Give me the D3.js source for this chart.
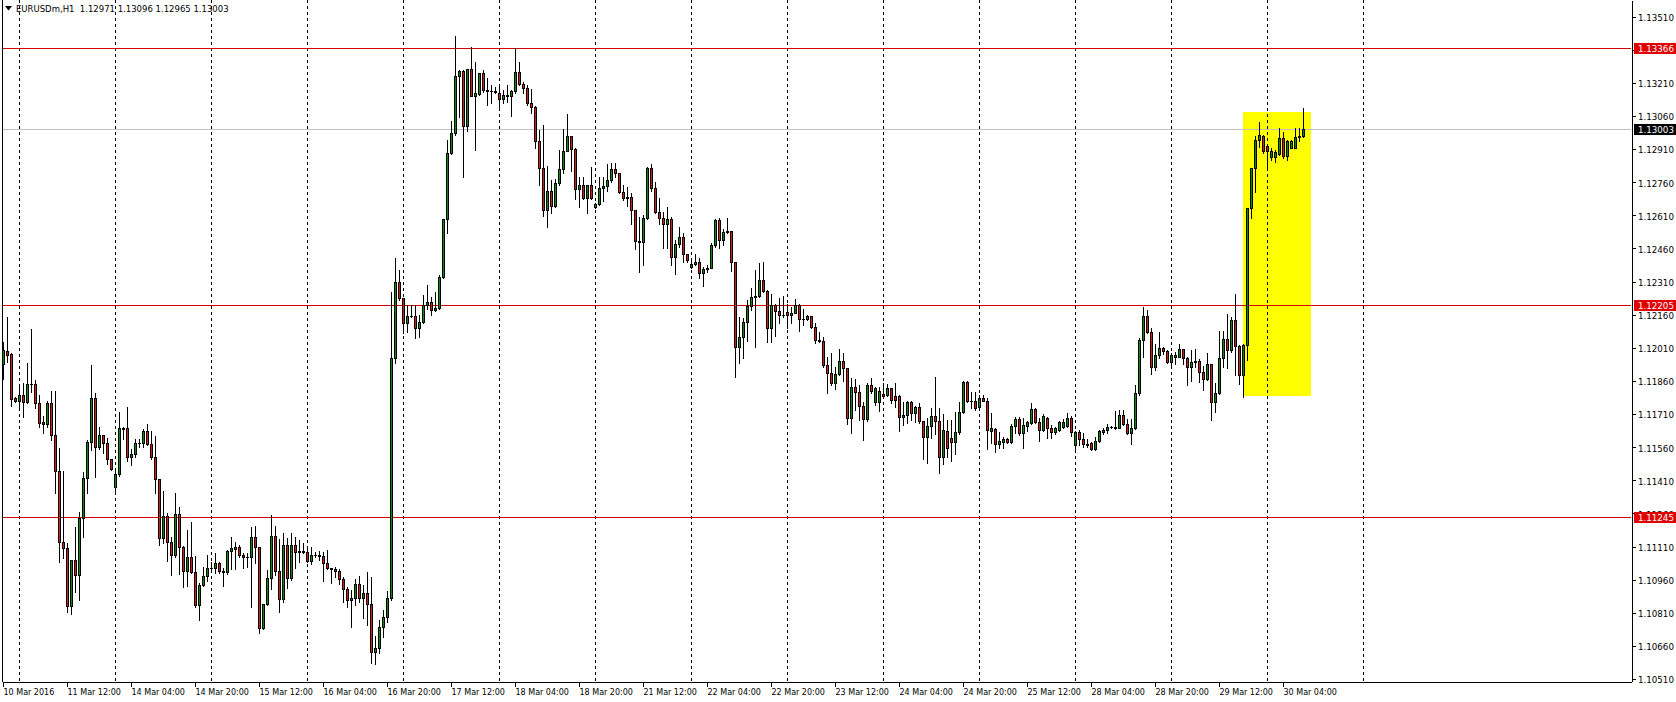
<!DOCTYPE html>
<html><head><meta charset="utf-8">
<script src="https://cdn.jsdelivr.net/npm/d3@7"></script>
<style>html,body{margin:0;padding:0;background:#fff;overflow:hidden}</style>
</head><body><svg id="c" width="1676" height="702"></svg>
<script>
const symbol = "EURUSDm,H1";
const opens = [
1.11935,1.11997,1.11980,1.11783,1.11770,1.11795,1.11764,1.11846,1.11848,1.11761,
1.11675,1.11663,1.11759,1.11614,1.11453,1.11129,1.11103,1.10842,1.11049,1.10981,
1.11239,1.11419,1.11582,1.11781,1.11559,1.11614,1.11577,1.11505,1.11378,1.11438,
1.11645,1.11645,1.11517,1.11529,1.11580,1.11581,1.11633,1.11574,1.11517,1.11416,
1.11150,1.11248,1.11132,1.11072,1.11256,1.11109,1.11001,1.11064,1.10996,1.10845,
1.10936,1.10977,1.11011,1.11011,1.11034,1.11001,1.10993,1.11090,1.11100,1.11106,
1.11070,1.11061,1.11063,1.11152,1.11106,1.10740,1.10850,1.10966,1.11158,1.11001,
1.10874,1.11117,1.10966,1.11117,1.11087,1.11088,1.11087,1.11046,1.11070,1.11071,
1.11069,1.11034,1.11011,1.11010,1.11001,1.10962,1.10916,1.10868,1.10876,1.10939,
1.10876,1.10898,1.10850,1.10634,1.10649,1.10747,1.10792,1.10876,1.11964,1.12306,
1.12234,1.12121,1.12154,1.12156,1.12101,1.12125,1.12204,1.12219,1.12181,1.12189,
1.12329,1.12592,1.12891,1.12981,1.13241,1.13265,1.13014,1.13272,1.13151,1.13159,
1.13253,1.13177,1.13172,1.13174,1.13165,1.13135,1.13155,1.13150,1.13174,1.13257,
1.13204,1.13185,1.13120,1.13102,1.12948,1.12823,1.12634,1.12720,1.12653,1.12755,
1.12819,1.12901,1.12969,1.12910,1.12728,1.12746,1.12687,1.12746,1.12646,1.12660,
1.12732,1.12743,1.12770,1.12819,1.12800,1.12717,1.12687,1.12694,1.12634,1.12493,
1.12490,1.12596,1.12823,1.12735,1.12626,1.12596,1.12569,1.12593,1.12422,1.12479,
1.12513,1.12433,1.12374,1.12388,1.12397,1.12347,1.12367,1.12372,1.12475,1.12589,
1.12498,1.12536,1.12539,1.12397,1.12015,1.12060,1.12128,1.12199,1.12241,1.12243,
1.12317,1.12268,1.12098,1.12204,1.12178,1.12158,1.12170,1.12158,1.12169,1.12204,
1.12139,1.12140,1.12154,1.12103,1.12045,1.12042,1.11932,1.11897,1.11852,1.11891,
1.11951,1.11917,1.11691,1.11834,1.11811,1.11746,1.11686,1.11841,1.11766,1.11766,
1.11799,1.11795,1.11826,1.11790,1.11793,1.11698,1.11706,1.11766,1.11713,1.11743,
1.11678,1.11607,1.11657,1.11703,1.11678,1.11517,1.11633,1.11600,1.11585,1.11627,
1.11718,1.11856,1.11769,1.11770,1.11743,1.11784,1.11769,1.11633,1.11642,1.11573,
1.11582,1.11596,1.11582,1.11657,1.11687,1.11623,1.11657,1.11668,1.11733,1.11672,
1.11638,1.11693,1.11648,1.11630,1.11638,1.11653,1.11657,1.11693,1.11570,1.11630,
1.11597,1.11573,1.11578,1.11552,1.11588,1.11630,1.11636,1.11653,1.11652,1.11648,
1.11706,1.11663,1.11623,1.11645,1.11804,1.12045,1.12155,1.12083,1.11924,1.11977,
1.12010,1.11995,1.11947,1.11967,1.11970,1.12004,1.11965,1.11924,1.11947,1.11950,
1.11899,1.11869,1.11935,1.11763,1.11804,1.11965,1.12048,1.12000,1.12136,1.12019,
1.11887,1.12022,1.12642,1.12823,1.12951,1.12970,1.12925,1.12875,1.12875,1.12886,
1.12961,1.12880,1.12916,1.12916,1.12966,1.12971];
const highs = [
1.12035,1.12151,1.11988,1.11785,1.11837,1.11852,1.11942,1.12095,1.11864,1.11796,
1.11701,1.11770,1.11814,1.11814,1.11555,1.11452,1.11124,1.11049,1.11197,1.11268,
1.11446,1.11592,1.11932,1.11807,1.11650,1.11616,1.11600,1.11507,1.11460,1.11720,
1.11650,1.11740,1.11552,1.11596,1.11596,1.11641,1.11665,1.11633,1.11610,1.11418,
1.11361,1.11263,1.11154,1.11351,1.11290,1.11112,1.11185,1.11222,1.11067,1.10943,
1.11019,1.11072,1.11041,1.11079,1.11041,1.11011,1.11094,1.11154,1.11132,1.11117,
1.11082,1.11079,1.11200,1.11203,1.11108,1.10850,1.11004,1.11253,1.11203,1.11143,
1.11170,1.11147,1.11170,1.11154,1.11140,1.11124,1.11102,1.11109,1.11087,1.11090,
1.11087,1.11094,1.11015,1.11019,1.11007,1.10971,1.10928,1.10913,1.10962,1.10977,
1.10936,1.10996,1.10971,1.10705,1.10777,1.10823,1.10910,1.12264,1.12415,1.12362,
1.12236,1.12204,1.12204,1.12204,1.12158,1.12249,1.12294,1.12241,1.12264,1.12339,
1.12594,1.12951,1.13038,1.13422,1.13266,1.13266,1.13273,1.13373,1.13305,1.13254,
1.13268,1.13230,1.13200,1.13192,1.13200,1.13177,1.13200,1.13177,1.13366,1.13305,
1.13215,1.13200,1.13181,1.13105,1.12996,1.13019,1.12833,1.12770,1.12773,1.12906,
1.12999,1.13069,1.12970,1.12913,1.12785,1.12785,1.12748,1.12830,1.12664,1.12785,
1.12785,1.12841,1.12845,1.12845,1.12802,1.12747,1.12740,1.12709,1.12636,1.12603,
1.12611,1.12830,1.12841,1.12762,1.12690,1.12626,1.12649,1.12603,1.12498,1.12558,
1.12528,1.12435,1.12403,1.12433,1.12415,1.12377,1.12385,1.12483,1.12593,1.12599,
1.12548,1.12596,1.12541,1.12399,1.12151,1.12146,1.12226,1.12279,1.12362,1.12394,
1.12398,1.12270,1.12253,1.12210,1.12234,1.12244,1.12210,1.12193,1.12229,1.12210,
1.12184,1.12158,1.12156,1.12121,1.12083,1.12060,1.11967,1.11985,1.11924,1.12003,
1.11988,1.11919,1.11872,1.11867,1.11841,1.11766,1.11849,1.11872,1.11834,1.11834,
1.11849,1.11845,1.11828,1.11849,1.11796,1.11766,1.11769,1.11768,1.11748,1.11759,
1.11680,1.11693,1.11736,1.11879,1.11736,1.11709,1.11683,1.11683,1.11720,1.11766,
1.11859,1.11859,1.11811,1.11811,1.11796,1.11796,1.11784,1.11713,1.11645,1.11627,
1.11607,1.11600,1.11663,1.11698,1.11698,1.11691,1.11678,1.11759,1.11736,1.11691,
1.11709,1.11698,1.11660,1.11653,1.11678,1.11687,1.11713,1.11703,1.11633,1.11638,
1.11623,1.11597,1.11585,1.11607,1.11638,1.11648,1.11663,1.11657,1.11724,1.11728,
1.11728,1.11687,1.11687,1.11841,1.12053,1.12196,1.12181,1.12098,1.12026,1.12080,
1.12015,1.12000,1.11985,1.11989,1.12025,1.12006,1.11967,1.12000,1.12004,1.11959,
1.11927,1.11985,1.11937,1.11849,1.12086,1.12086,1.12162,1.12151,1.12252,1.12022,
1.12026,1.12644,1.12826,1.12970,1.13031,1.12973,1.12928,1.12913,1.12906,1.13006,
1.12986,1.12951,1.12951,1.13006,1.13006,1.13096];
const lows = [
1.11867,1.11947,1.11746,1.11766,1.11736,1.11698,1.11759,1.11811,1.11736,1.11653,
1.11625,1.11653,1.11592,1.11351,1.11041,1.11057,1.10815,1.10804,1.10905,1.10868,
1.11152,1.11354,1.11547,1.11423,1.11550,1.11535,1.11482,1.11456,1.11363,1.11430,
1.11596,1.11499,1.11479,1.11517,1.11559,1.11559,1.11570,1.11506,1.11351,1.11117,
1.11127,1.11046,1.10981,1.11064,1.10986,1.10928,1.10933,1.10989,1.10835,1.10777,
1.10933,1.10955,1.11007,1.10991,1.10989,1.10933,1.10986,1.11007,1.11007,1.11064,
1.11011,1.11019,1.10835,1.11034,1.10717,1.10735,1.10845,1.10916,1.10981,1.10815,
1.10860,1.10921,1.10960,1.11013,1.11041,1.11079,1.11041,1.11031,1.11064,1.11049,
1.10955,1.11009,1.10946,1.10971,1.10940,1.10860,1.10838,1.10747,1.10845,1.10860,
1.10785,1.10755,1.10581,1.10578,1.10626,1.10702,1.10770,1.10868,1.11941,1.12226,
1.12076,1.12083,1.12148,1.12053,1.12057,1.12121,1.12184,1.12158,1.12176,1.12184,
1.12325,1.12531,1.12888,1.12975,1.13056,1.12782,1.12993,1.13150,1.12906,1.13155,
1.13170,1.13109,1.13120,1.13162,1.13102,1.13120,1.13124,1.13059,1.13165,1.13200,
1.13162,1.13109,1.13072,1.12913,1.12747,1.12607,1.12558,1.12619,1.12649,1.12747,
1.12800,1.12900,1.12812,1.12682,1.12649,1.12682,1.12622,1.12682,1.12642,1.12657,
1.12675,1.12720,1.12762,1.12785,1.12709,1.12679,1.12653,1.12569,1.12457,1.12354,
1.12385,1.12593,1.12720,1.12619,1.12569,1.12463,1.12463,1.12385,1.12343,1.12468,
1.12400,1.12397,1.12372,1.12385,1.12325,1.12291,1.12354,1.12370,1.12468,1.12460,
1.12475,1.12528,1.12358,1.11879,1.11940,1.11965,1.12042,1.12181,1.12015,1.12241,
1.12262,1.12037,1.12037,1.12063,1.12123,1.12151,1.12098,1.12121,1.12166,1.12087,
1.12113,1.12136,1.12098,1.12033,1.12037,1.11924,1.11804,1.11841,1.11822,1.11886,
1.11861,1.11665,1.11625,1.11728,1.11683,1.11592,1.11680,1.11807,1.11751,1.11724,
1.11788,1.11791,1.11759,1.11743,1.11633,1.11660,1.11668,1.11683,1.11675,1.11668,
1.11506,1.11487,1.11603,1.11618,1.11442,1.11482,1.11517,1.11497,1.11528,1.11618,
1.11713,1.11766,1.11736,1.11728,1.11736,1.11768,1.11552,1.11577,1.11537,1.11557,
1.11557,1.11577,1.11577,1.11623,1.11615,1.11557,1.11633,1.11663,1.11668,1.11588,
1.11633,1.11600,1.11603,1.11618,1.11633,1.11645,1.11653,1.11612,1.11552,1.11570,
1.11562,1.11562,1.11547,1.11547,1.11582,1.11618,1.11623,1.11645,1.11642,1.11645,
1.11660,1.11618,1.11573,1.11642,1.11796,1.11970,1.12076,1.11890,1.11909,1.11965,
1.11980,1.11940,1.11932,1.11935,1.11968,1.11935,1.11841,1.11860,1.11924,1.11854,
1.11819,1.11866,1.11683,1.11720,1.11799,1.11924,1.11917,1.11992,1.11887,1.11845,
1.11788,1.11956,1.12599,1.12714,1.12920,1.12891,1.12826,1.12860,1.12853,1.12883,
1.12868,1.12860,1.12914,1.12913,1.12946,1.12965];
const closes = [
1.12000,1.11979,1.11779,1.11770,1.11795,1.11764,1.11846,1.11848,1.11761,1.11668,
1.11663,1.11759,1.11614,1.11453,1.11129,1.11103,1.10842,1.11049,1.10981,1.11239,
1.11419,1.11582,1.11781,1.11559,1.11614,1.11577,1.11505,1.11462,1.11438,1.11645,
1.11642,1.11517,1.11529,1.11580,1.11581,1.11633,1.11574,1.11517,1.11416,1.11150,
1.11248,1.11132,1.11072,1.11256,1.11109,1.11001,1.11064,1.10996,1.10845,1.10936,
1.10977,1.11011,1.11013,1.11034,1.11001,1.10993,1.11090,1.11103,1.11106,1.11070,
1.11061,1.11063,1.11152,1.11106,1.10740,1.10850,1.10966,1.11158,1.11001,1.10874,
1.11117,1.10966,1.11117,1.11087,1.11088,1.11087,1.11046,1.11070,1.11071,1.11069,
1.11034,1.11011,1.11010,1.11001,1.10962,1.10916,1.10868,1.10876,1.10939,1.10876,
1.10898,1.10850,1.10634,1.10649,1.10747,1.10792,1.10876,1.11964,1.12306,1.12234,
1.12121,1.12154,1.12156,1.12101,1.12125,1.12204,1.12219,1.12181,1.12189,1.12329,
1.12592,1.12891,1.12981,1.13241,1.13265,1.13014,1.13272,1.13151,1.13162,1.13253,
1.13177,1.13172,1.13174,1.13170,1.13135,1.13155,1.13150,1.13174,1.13257,1.13204,
1.13185,1.13120,1.13102,1.12948,1.12823,1.12634,1.12720,1.12653,1.12755,1.12819,
1.12901,1.12969,1.12910,1.12728,1.12746,1.12687,1.12746,1.12687,1.12660,1.12732,
1.12743,1.12770,1.12819,1.12800,1.12717,1.12687,1.12694,1.12634,1.12493,1.12490,
1.12596,1.12823,1.12735,1.12626,1.12596,1.12569,1.12593,1.12422,1.12479,1.12513,
1.12433,1.12407,1.12388,1.12397,1.12347,1.12367,1.12372,1.12475,1.12589,1.12498,
1.12536,1.12539,1.12397,1.12015,1.12060,1.12128,1.12199,1.12241,1.12243,1.12317,
1.12268,1.12098,1.12204,1.12178,1.12158,1.12160,1.12158,1.12169,1.12204,1.12139,
1.12140,1.12154,1.12103,1.12045,1.12042,1.11932,1.11897,1.11852,1.11891,1.11951,
1.11917,1.11691,1.11834,1.11811,1.11746,1.11686,1.11841,1.11816,1.11829,1.11814,
1.11793,1.11826,1.11773,1.11773,1.11698,1.11706,1.11766,1.11713,1.11743,1.11678,
1.11607,1.11657,1.11703,1.11678,1.11517,1.11638,1.11557,1.11585,1.11627,1.11718,
1.11856,1.11769,1.11770,1.11739,1.11784,1.11769,1.11638,1.11648,1.11573,1.11588,
1.11596,1.11582,1.11657,1.11687,1.11623,1.11660,1.11672,1.11733,1.11672,1.11638,
1.11703,1.11645,1.11630,1.11648,1.11675,1.11675,1.11693,1.11630,1.11630,1.11597,
1.11573,1.11570,1.11552,1.11588,1.11633,1.11636,1.11653,1.11652,1.11648,1.11706,
1.11663,1.11623,1.11645,1.11804,1.12045,1.12155,1.12083,1.11924,1.11977,1.12010,
1.11995,1.11947,1.11977,1.11977,1.12004,1.11965,1.11924,1.11947,1.11950,1.11899,
1.11869,1.11935,1.11763,1.11804,1.11965,1.12048,1.12000,1.12136,1.12019,1.11887,
1.12022,1.12642,1.12823,1.12951,1.12973,1.12901,1.12901,1.12901,1.12895,1.12961,
1.12880,1.12946,1.12946,1.12966,1.12970,1.13003];

const timeLabelIdx = [0,16,32,48,64,80,96,112,128,144,160,176,192,208,224,240,256,272,288,304,320];
const timeLabels = ["10 Mar 2016","11 Mar 12:00","14 Mar 04:00","14 Mar 20:00","15 Mar 12:00","16 Mar 04:00",
  "16 Mar 20:00","17 Mar 12:00","18 Mar 04:00","18 Mar 20:00","21 Mar 12:00","22 Mar 04:00","22 Mar 20:00",
  "23 Mar 12:00","24 Mar 04:00","24 Mar 20:00","25 Mar 12:00","28 Mar 04:00","28 Mar 20:00","29 Mar 12:00","30 Mar 04:00"];
const dayGridIdx = [4,28,52,76,100,124,148,172,196,220,244,268,292,316,340];
const priceTicks = [1.10510,1.10660,1.10810,1.10960,1.11110,1.11260,1.11410,1.11560,1.11710,1.11860,
  1.12010,1.12160,1.12310,1.12460,1.12610,1.12760,1.12910,1.13060,1.13210,1.13360,1.13510];
const levelLines = [1.13366, 1.12205, 1.11245];
const bidPrice = 1.13003;
const boxIdx = [310, 327];
const boxPrice = [1.13076, 1.11792];

const svg = d3.select('#c');
const font = "'DejaVu Sans', Verdana, sans-serif";
const x = d3.scaleLinear().domain([-0.375, 406.875]).range([2, 1631]);
const y = d3.scaleLinear().domain([1.10501, 1.13585]).range([681, 0]);
const cx = i => Math.round(x(i) - 0.5) + 0.5;
const py = p => Math.round(y(p)) + 0.5;
const fmt = d3.format('.5f');

svg.append('rect').attr('width',1676).attr('height',702).attr('fill','#fff');

// highlight rectangle (background object)
svg.append('rect')
  .attr('x', Math.round(x(boxIdx[0]) - 0.5))
  .attr('y', Math.round(y(boxPrice[0])))
  .attr('width', Math.round(x(boxIdx[1]) - x(boxIdx[0])))
  .attr('height', Math.round(y(boxPrice[1]) - y(boxPrice[0])))
  .attr('fill', '#ffff00');

// vertical day grid
svg.append('g').selectAll('line').data(dayGridIdx).join('line')
  .attr('x1', d => cx(d)).attr('x2', d => cx(d))
  .attr('y1', 0).attr('y2', 681)
  .attr('stroke', '#000').attr('stroke-width', 1)
  .attr('stroke-dasharray', '3,3').attr('shape-rendering','crispEdges');

// bid line
svg.append('line').attr('x1', 2).attr('x2', 1631).attr('y1', py(bidPrice)).attr('y2', py(bidPrice))
  .attr('stroke', '#c0c0c0').attr('shape-rendering','crispEdges');

// level lines
svg.append('g').selectAll('line').data(levelLines).join('line')
  .attr('x1', 2).attr('x2', 1631).attr('y1', d => py(d)).attr('y2', d => py(d))
  .attr('stroke', '#d40000').attr('shape-rendering','crispEdges');

// candles
const bars = d3.range(opens.length).map(i => ({i, o:opens[i], h:highs[i], l:lows[i], c:closes[i]}));
const cg = svg.append('g').attr('shape-rendering','crispEdges');
cg.selectAll('line.w').data(bars).join('line').attr('class','w')
  .attr('x1', d => cx(d.i)).attr('x2', d => cx(d.i))
  .attr('y1', d => Math.round(y(d.h))).attr('y2', d => Math.round(y(d.l)) + 1)
  .attr('stroke', '#000');
bars.forEach(d => {
  const top = Math.round(y(Math.max(d.o, d.c)));
  const bot = Math.round(y(Math.min(d.o, d.c)));
  const xc = cx(d.i);
  if (bot - top < 1) {
    cg.append('line').attr('x1', xc - 1.5).attr('x2', xc + 1.5).attr('y1', top + 0.5).attr('y2', top + 0.5).attr('stroke', '#000');
  } else {
    cg.append('rect').attr('x', xc - 1).attr('width', 2)
      .attr('y', top + 0.5).attr('height', bot - top)
      .attr('fill', d.c > d.o ? '#0a8a0a' : '#d41c1c').attr('stroke', '#000').attr('stroke-width', 1);
  }
});

// frame
svg.append('line').attr('x1', 2.5).attr('x2', 2.5).attr('y1', 0).attr('y2', 682).attr('stroke', '#000');

// right price axis
const yAxis = d3.axisRight(y).tickValues(priceTicks).tickSize(4).tickSizeOuter(0).tickFormat(fmt);
const ya = svg.append('g').attr('transform', 'translate(1631.5,0)').call(yAxis);
ya.select('.domain').attr('stroke', '#000').attr('shape-rendering','crispEdges');
ya.selectAll('.tick line').attr('stroke', '#000').attr('shape-rendering','crispEdges');
ya.selectAll('.tick text').attr('font-family', font).attr('font-size', 8.7).attr('fill', '#000')
  .attr('x', 6.5).attr('dy', '0.45em');
ya.attr('font-size', null).attr('font-family', null);

// bottom time axis
const xAxis = d3.axisBottom(x).tickValues(timeLabelIdx).tickSize(5).tickSizeOuter(0)
  .tickFormat((d, k) => timeLabels[k]);
const xa = svg.append('g').attr('transform', 'translate(0,681.5)').call(xAxis);
xa.select('.domain').attr('stroke', '#000').attr('shape-rendering','crispEdges');
xa.selectAll('.tick').attr('transform', d => `translate(${cx(d)},0)`);
xa.selectAll('.tick line').attr('stroke', '#000').attr('shape-rendering','crispEdges');
xa.selectAll('.tick text').attr('font-family', font).attr('font-size', 8).attr('fill', '#000')
  .attr('text-anchor', 'start').attr('x', 0).attr('y', 8).attr('dy', '0.71em');
xa.attr('font-size', null).attr('font-family', null);

// price tags on axis
const tags = levelLines.map(p => ({p, bg:'#e00000', fg:'#fff'})).concat([{p:bidPrice, bg:'#000', fg:'#fff'}]);
const tg = svg.append('g');
tags.forEach(t => {
  const yy = Math.round(y(t.p));
  tg.append('rect').attr('x', 1634).attr('y', yy - 5).attr('width', 42).attr('height', 11).attr('fill', t.bg);
  tg.append('text').attr('x', 1638).attr('y', yy + 3.6).attr('font-family', font).attr('font-size', 8.7)
    .attr('fill', t.fg).text(fmt(t.p));
});

// header
const last = opens.length - 1;
svg.append('path').attr('d', 'M5,6 L12,6 L8.5,10.5 Z').attr('fill', '#000');
svg.append('text').attr('x', 16).attr('y', 12).attr('font-family', font).attr('font-size', 8.5).attr('fill', '#000')
  .attr('xml:space', 'preserve')
  .text(`${symbol}  ${fmt(opens[last])} ${fmt(highs[last])} ${fmt(lows[last])} ${fmt(closes[last])}`);
</script></body></html>
